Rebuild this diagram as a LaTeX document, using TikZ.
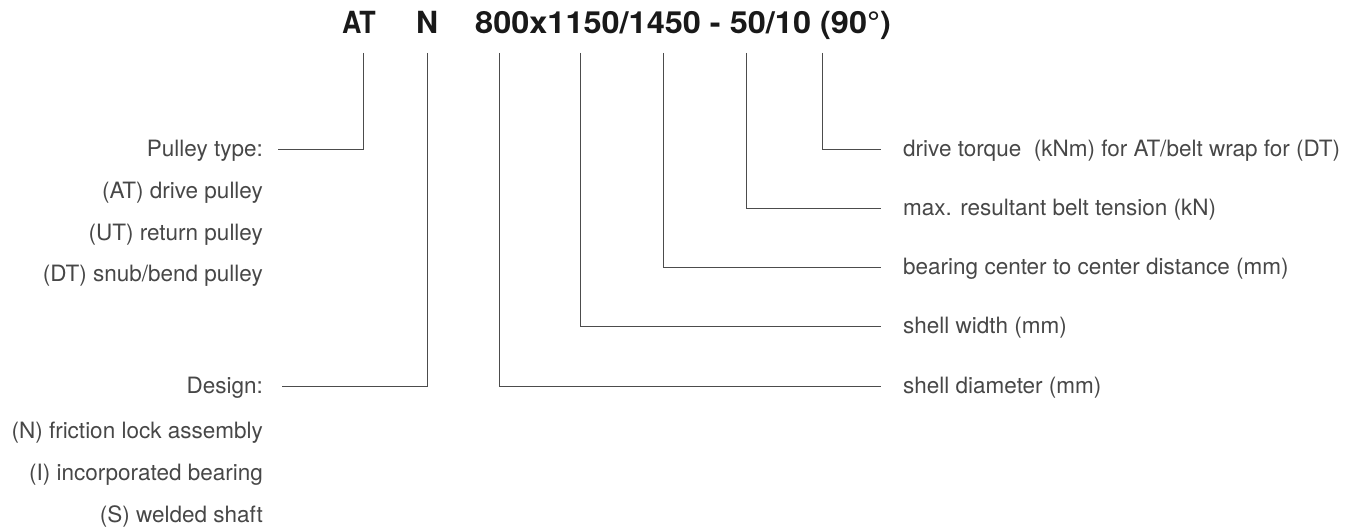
\documentclass[tikz,border=0pt]{standalone}
\usepackage{fontspec}
\setmainfont{TeX Gyre Heros}
\tikzset{%
  code/.style   = {anchor=base west, inner sep=0pt, text=black!90,%
                   font=\fontsize{30.5}{36}\selectfont\bfseries},%
  desc/.style   = {anchor=west, inner sep=0pt, text=black!72,%
                   text height=15pt, text depth=0pt,%
                   font=\fontsize{22.5}{27}\selectfont},%
  item/.style   = {desc, anchor=east},%
  leader/.style = {draw=black!70, line width=0.9pt}%
}

\begin{document}
\begin{tikzpicture}[x=1pt,y=-1pt]
	\useasboundingbox (0,0) rectangle (1371,532);
	% designation
	\node[code] (at)   at (342,34) {\scalebox{0.88}[1]{AT}};
	\node[code] (n)    at (416,34) {N};
	\node[code] (size) at (475,34) {\scalebox{1.065}[1]{800x1150/1450 - 50/10 (90°)}};
	% tick tops under the designation
	\coordinate (tat)  at (363,53);
	\coordinate (tn)   at (427,53);
	\coordinate (tdia) at (499,53);
	\coordinate (twid) at (580,53);
	\coordinate (tbrg) at (663,53);
	\coordinate (tten) at (746,53);
	\coordinate (ttrq) at (822,53);
	% left column
	\node[item] (ptype) at (263,149) {Pulley type:};
	\node[item] (pat)   at (263,191) {(AT) drive pulley};
	\node[item] (put)   at (263,233) {(UT) return pulley};
	\node[item] (pdt)   at (263,274) {(DT) snub/bend pulley};
	\node[item] (dsgn)  at (263,386) {Design:};
	\node[item] (dn)    at (263,431) {(N) friction lock assembly};
	\node[item] (di)    at (263,473) {(I) incorporated bearing};
	\node[item] (ds)    at (263,515) {(S) welded shaft};
	% right column
	\node[desc] (trq) at (903,149) {drive torque~ (kNm) for AT/belt wrap for (DT)};
	\node[desc] (ten) at (903,208) {max. resultant belt tension (kN)};
	\node[desc] (brg) at (903,267) {bearing center to center distance (mm)};
	\node[desc] (wid) at (903,326) {shell width (mm)};
	\node[desc] (dia) at (903,386) {shell diameter (mm)};
	% leaders
	\draw[leader] (tat) |- ([xshift=15pt]ptype.east);
	\draw[leader] (tn) |- ([xshift=19pt]dsgn.east);
	\draw[leader] (tdia) |- ([xshift=-22pt]dia.west);
	\draw[leader] (twid) |- ([xshift=-22pt]wid.west);
	\draw[leader] (tbrg) |- ([xshift=-22pt]brg.west);
	\draw[leader] (tten) |- ([xshift=-22pt]ten.west);
	\draw[leader] (ttrq) |- ([xshift=-22pt]trq.west);
\end{tikzpicture}
\end{document}
